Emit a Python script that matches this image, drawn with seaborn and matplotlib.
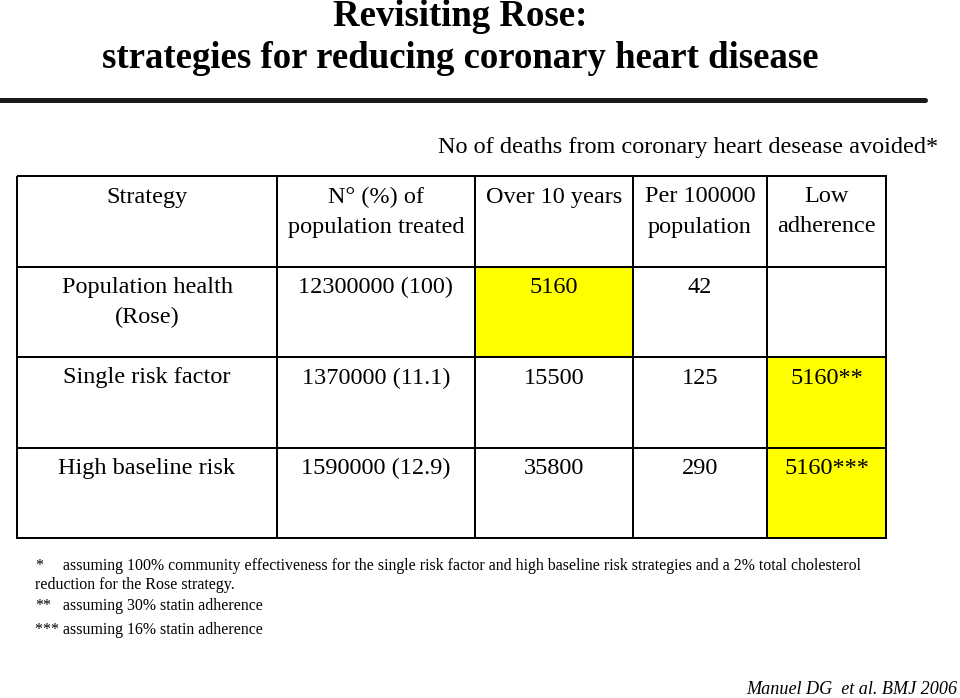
import numpy as np
import matplotlib
matplotlib.use("Agg")
import matplotlib.pyplot as plt
from matplotlib.colors import ListedColormap
from matplotlib.lines import Line2D
import seaborn as sns

sns.set_theme(style="white")
plt.rcParams["font.family"] = ["Liberation Serif", "DejaVu Serif"]
plt.rcParams["text.color"] = "black"

# ---- data ----
title_lines = ["Revisiting Rose:", "strategies for reducing coronary heart disease"]
group_header = "No of deaths from coronary heart desease avoided*"
headers = ["Strategy", "N° (%) of\npopulation treated", "Over 10 years",
           "Per 100000\npopulation", "Low\nadherence"]
strategies = ["Population health\n(Rose)", "Single risk factor", "High baseline risk"]
treated = ["12300000 (100)", "1370000 (11.1)", "1590000 (12.9)"]
over_10_years = ["5160", "15500", "35800"]
per_100000 = ["42", "125", "290"]
low_adherence = ["", "5160**", "5160***"]
# highlighted (yellow) cells, per column, rows = header + 3 strategies
highlight_over10 = [0, 1, 0, 0]
highlight_low = [0, 0, 1, 1]
footnotes = [
    ("*", "assuming 100% community effectiveness for the single risk factor and high baseline risk strategies and a 2% total cholesterol"),
    ("", "reduction for the Rose strategy."),
    ("**", "assuming 30% statin adherence"),
    ("***", "assuming 16% statin adherence"),
]
citation = "Manuel DG  et al. BMJ 2006"

columns = [
    [headers[0]] + strategies,
    [headers[1]] + treated,
    [headers[2]] + over_10_years,
    [headers[3]] + per_100000,
    [headers[4]] + low_adherence,
]
flags = [[0, 0, 0, 0], [0, 0, 0, 0], highlight_over10, [0, 0, 0, 0], highlight_low]

W, H = 960, 698
fig = plt.figure(figsize=(W / 100, H / 100), dpi=100)

def fx(px):
    return px / W

def fy(py):
    return 1 - py / H

# title
fig.text(fx(460), fy(16), title_lines[0], ha="center", va="center",
         fontsize=26.5, fontweight="bold")
fig.text(fx(460), fy(58), title_lines[1], ha="center", va="center",
         fontsize=26.5, fontweight="bold")
fig.add_artist(Line2D([0, fx(925)], [fy(100), fy(100)], lw=3.6, color="#1a1a1a"))

fig.text(fx(938), fy(147), group_header, ha="right", va="center", fontsize=17.5)

# table columns drawn as seaborn heatmaps
col_edges = [17, 277, 475, 633, 767, 886]
top, bottom = 176, 538
row_h = (bottom - top) / 4
cmap = ListedColormap(["white", "#FFFF00"])
for j in range(5):
    x0, x1 = col_edges[j], col_edges[j + 1]
    ax = fig.add_axes([fx(x0), fy(bottom), (x1 - x0) / W, (bottom - top) / H])
    data = np.array(flags[j], dtype=float).reshape(-1, 1)
    sns.heatmap(data, ax=ax, cmap=cmap, vmin=0, vmax=1, cbar=False,
                linewidths=1.2, linecolor="black",
                xticklabels=False, yticklabels=False)
    ax.collections[0].set_clip_on(False)
    for i, txt in enumerate(columns[j]):
        for k, line in enumerate(txt.split("\n")):
            ax.text(0.5, i + (21 + 30 * k) / row_h, line, ha="center", va="center",
                    fontsize=17.5, color="black")

# footnotes
foot_y = [566, 585, 606, 630]
fs_foot = 11.4
for (mark, text), y in zip(footnotes, foot_y):
    if mark == "":
        fig.text(fx(35), fy(y), text, ha="left", va="center", fontsize=fs_foot)
    elif mark == "***":
        fig.text(fx(35), fy(y), mark + " " + text, ha="left", va="center", fontsize=fs_foot)
    else:
        fig.text(fx(35), fy(y), mark, ha="left", va="center", fontsize=fs_foot)
        fig.text(fx(63), fy(y), text, ha="left", va="center", fontsize=fs_foot)

fig.text(fx(957), fy(690), citation, ha="right", va="center", fontsize=13.1,
         style="italic")

fig.savefig("out.png", dpi=100)
